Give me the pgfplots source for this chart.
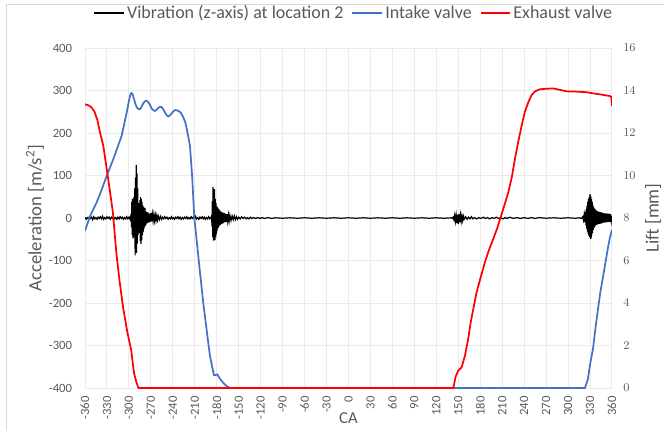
\documentclass[border=0pt]{standalone}
\usepackage{fontspec}
\setmainfont{Carlito}
\usepackage{pgfplots}
\pgfplotsset{compat=1.18}
\definecolor{TxtGray}{HTML}{595959}
\definecolor{GridGray}{HTML}{EBEBEB}
\definecolor{FrameGray}{HTML}{D9D9D9}
\definecolor{IntakeBlue}{HTML}{4472C4}
\definecolor{ExhaustRed}{HTML}{FF0000}

\begin{document}
\begin{tikzpicture}
\pgfplotsset{
  every axis/.append style={
    scale only axis, width=395.25pt, height=255pt,
    xmin=-360, xmax=360,
    tick style={draw=none}, major tick length=0pt,
    axis line style={draw=none},
    tick label style={font=\fontsize{9.5}{11}\selectfont, text=TxtGray},
  }
}
\begin{axis}[
  at={(0,0)}, anchor=south west,
  axis x line*=bottom, axis y line*=left,
  ymin=-400, ymax=400, ytick={-400,-300,...,400},
  xtick={-360,-330,...,360},
  xticklabel={\pgfmathtruncatemacro\tmp{round(\tick)}\tmp},
  yticklabel={\pgfmathtruncatemacro\tmp{round(\tick)}\tmp},
  xticklabel style={rotate=90, anchor=east, inner sep=0pt, xshift=-6pt},
  yticklabel style={anchor=east, inner sep=0pt, xshift=-9.5pt},
  grid=major, grid style={GridGray, line width=0.75pt},
  every axis x label/.style={at={(axis description cs:0.5,-0.089)}, anchor=center,
    font=\fontsize{12.5}{14}\selectfont, text=TxtGray},
  every axis y label/.style={at={(axis description cs:-0.095,0.5)}, rotate=90, anchor=center,
    font=\fontsize{14}{16}\selectfont, text=TxtGray},
  xlabel={CA}, ylabel={Acceleration [m/s\textsuperscript{2}]},
  legend columns=3,
  legend style={at={(axis description cs:0.511,1.103)}, anchor=center, draw=none, fill=none,
    font=\fontsize{13.5}{16}\selectfont, text=TxtGray, inner sep=0pt,
    /tikz/every even column/.append style={column sep=4pt}},
  legend image code/.code={\draw[#1] (0pt,0pt) -- (22pt,0pt);},
]
\addplot[black, line width=0.9pt] coordinates {
(-360,2) (-358.5,-3) (-357,1) (-355.5,-2) (-354,3) (-352.5,-1) (-351,2) (-349.5,-4) (-348,3) (-346.5,-2)
(-345,1) (-343.5,-3) (-342,2) (-340.5,-1) (-339,3) (-337.5,-2) (-336,4) (-334.5,-3) (-333,1) (-331.5,-2)
(-330,3) (-328.5,-1) (-327,2) (-325.5,-3) (-324,2) (-322.5,-1) (-321,3) (-319.5,-2) (-318,1) (-316.5,-3)
(-315,2) (-313.5,-2) (-312,3) (-310.5,-1) (-309,2) (-307.5,-3) (-306,1) (-304.5,-2) (-303,3) (-301.5,-2)
(-300,2) (-298.5,-3)
(-297,8) (-296.5,-22) (-296,38) (-295.5,-40) (-295,45) (-294.5,-48) (-294,42) (-293.5,-35) (-293,50) (-292.5,-45)
(-292,70) (-291.5,-88) (-291,95) (-290.5,-70) (-290,125) (-289.5,-82) (-289,105) (-288.5,-60) (-288,70) (-287.5,-40)
(-287,35) (-286.5,-30) (-286,25) (-285.5,-35) (-285,42) (-284.5,-55) (-284,49) (-283.5,-61) (-283,45) (-282.5,-52)
(-282,38) (-281.5,-40) (-281,30) (-280.5,-32) (-280,26) (-279.5,-25) (-279,22) (-278.5,-20) (-278,24) (-277.5,-18)
(-277,16) (-276.5,-15) (-276,14) (-275,-12) (-274,13) (-273,-11) (-272,10) (-271,-9) (-270,12) (-269,-8)
(-268,9) (-267,-7) (-266,8) (-265,-6) (-264,7) (-263,-6) (-262,5) (-261,-5) (-260,5) (-258.5,-4)
(-257,4) (-255.5,-3)
(-254,2) (-252.5,-2) (-251,3) (-249.5,-1) (-248,2) (-246.5,-3) (-245,1) (-243.5,-2) (-242,3) (-240.5,-2)
(-239,1) (-237.5,-3) (-236,2) (-234.5,-1) (-233,3) (-231.5,-2) (-230,2) (-228.5,-3) (-227,1) (-225.5,-2)
(-224,2) (-222.5,-1) (-221,3) (-219.5,-2) (-218,1) (-216.5,-2) (-215,3) (-213.5,-1) (-212,2) (-210.5,-3)
(-209,4) (-207.5,-2) (-206,1) (-204.5,-3) (-203,2) (-201.5,-1) (-200,3) (-198.5,-2) (-197,2) (-195.5,-3)
(-194,1) (-192.5,-2) (-191,3) (-189.5,-2) (-188,1)
(-187,5) (-186.5,-20) (-186,40) (-185.5,-45) (-185,73) (-184.5,-53) (-184,50) (-183.5,-50) (-183,68) (-182.5,-52)
(-182,45) (-181.5,-45) (-181,35) (-180.5,-38) (-180,28) (-179.5,-30) (-179,25) (-178.5,-25) (-178,22) (-177.5,-22)
(-177,20) (-176.5,-18) (-176,18) (-175,-16) (-174,15) (-173,-14) (-172,13) (-171,-12) (-170,12) (-169,-10)
(-168,10) (-167,-9) (-166,9) (-165,-8) (-164,7) (-163,-7) (-162,6) (-160.5,-6) (-159,5) (-157.5,-4)
(-156,5) (-154.5,-4) (-153,3) (-151.5,-3)
(-150,2) (-148,-2) (-146,3) (-144,-1) (-142,2) (-140,-2) (-138,1) (-136,-2) (-134,2) (-132,-1)
(-130,1) (-127,-1) (-124,1) (-121,-1) (-118,1) (-115,-1) (-110,1) (-105,-1) (-100,0.5)
(-90,-0.5) (-80,0.5) (-70,-0.5) (-60,0.5) (-50,-0.5) (-40,0.5) (-30,-0.5) (-20,0.5) (-10,-0.5) (0,0.5)
(10,-0.5) (20,0.5) (30,-0.5) (40,0.5) (50,-0.5) (60,0.5) (70,-0.5) (80,0.5) (90,-0.5) (100,0.5)
(110,-0.5) (120,0.5) (130,-0.5) (140,0.5) (142,-1)
(143,2) (144,-4) (145,6) (146,-8) (147,7) (148,-12) (149,8) (150,-14) (151,9) (152,-10)
(153,7) (154,-8) (155,5) (156,-6) (157,4) (158,-3) (160,3) (162,-3) (164,2) (166,-2) (168,3) (170,-2)
(172,1) (175,-2) (178,1) (181,-1) (184,2) (187,-1) (190,1) (193,-2) (196,1) (199,-1)
(202,2) (205,-1) (208,1) (211,-2) (214,1) (217,-1) (220,2) (225,-1) (230,1) (235,-1)
(240,1) (245,-1) (250,1) (255,-1) (260,1) (270,-0.5) (280,0.5) (290,-0.5) (300,0.5) (310,-0.5)
(315,0.5) (318,-1)
(320,3) (321,-5) (322,8) (323,-10) (324,15) (324.5,-18) (325,22) (325.5,-25) (326,30) (326.5,-32)
(327,38) (327.5,-38) (328,45) (328.5,-42) (329,50) (329.5,-45) (330,56) (330.5,-49) (331,52) (331.5,-48)
(332,45) (332.5,-40) (333,38) (333.5,-35) (334,30) (334.5,-28) (335,25) (335.5,-24) (336,22) (336.5,-20)
(337,20) (337.5,-18) (338,18) (339,-16) (340,17) (341,-15) (342,15) (343,-14) (344,14) (345,-13)
(346,13) (347,-12) (348,12) (349,-11) (350,11) (351,-10) (352,11) (353,-10) (354,10) (355,-9)
(356,10) (357,-9) (358,9) (359,-8) (360,5)
};
\addlegendentry{Vibration (z-axis) at location 2}
\addlegendimage{IntakeBlue, line width=1.3pt}
\addlegendentry{Intake valve}
\addlegendimage{ExhaustRed, line width=1.3pt}
\addlegendentry{Exhaust valve}
\end{axis}

\begin{axis}[
  at={(0,0)}, anchor=south west,
  axis x line=none, axis y line*=right,
  ymin=0, ymax=16, ytick={0,2,...,16},
  yticklabel style={anchor=west, inner sep=0pt, xshift=8.25pt},
  every axis y label/.style={at={(axis description cs:1.078,0.5)}, rotate=90, anchor=center,
    font=\fontsize{14}{16}\selectfont, text=TxtGray},
  ylabel={Lift [mm]},
]
% intake valve
\addplot[IntakeBlue, line width=1.3pt] coordinates {
(-360,7.40) (-353,8.10) (-344,8.74) (-337,9.35) (-330.4,9.98) (-321.3,10.77) (-309.9,11.87) (-303,12.97)
(-300,13.5) (-298.5,13.75) (-297.3,13.85) (-296.3,13.88) (-295,13.82) (-293,13.6) (-291,13.35) (-289,13.2)
(-287,13.13) (-284.9,13.12) (-282.5,13.25) (-280,13.42) (-277.8,13.5) (-275.8,13.52) (-273.5,13.45)
(-271,13.3) (-269,13.16) (-267,13.08) (-264.4,13.04) (-262,13.1) (-260,13.18) (-257.5,13.23)
(-255.3,13.22) (-253,13.12) (-251,12.98) (-248.5,12.84) (-246.2,12.78) (-243.5,12.84) (-241,12.95)
(-238.5,13.05) (-236,13.08) (-233.9,13.06) (-231.5,13.02) (-229,12.95) (-225.7,12.74) (-223,12.5)
(-221,12.2) (-218.8,11.8) (-216.6,11.4) (-213.5,9.9)
(-210.7,8.03) (-204,5.8) (-198.4,4.0) (-193,2.5) (-189.2,1.5) (-186,0.95) (-183.8,0.6) (-181,0.62)
(-179.3,0.64) (-175,0.4) (-170,0.2) (-166,0.08) (-162,0) (200,0) (323,0) (327,0.4) (330,1.1)
(334,1.84) (337,2.7) (340,3.5) (344,4.5) (348,5.28) (352,6.1) (355,6.7) (357,7.05) (360,7.45)
};
% exhaust valve
\addplot[ExhaustRed, line width=1.3pt] coordinates {
(-360,13.35) (-355,13.3) (-351,13.2) (-347,13.0) (-343,12.6) (-340,12.1) (-335,11.4) (-329,10.0)
(-322,8.3) (-317,6.3) (-313,5.1) (-308,3.8) (-302,2.6) (-297,1.8) (-293,0.7) (-290,0.3) (-287,0)
(0,0) (143.2,0) (146.5,0.55) (150,0.82) (154.6,0.98) (159.1,1.52) (163.6,2.32) (167,3.1) (170.5,3.72)
(175,4.5) (180.5,5.2) (186.4,5.92) (192,6.5) (197.8,7.02) (203,7.5) (207.8,8.03) (213,8.6)
(218.3,9.2) (223,9.9) (227.4,10.78) (232,11.6) (236.5,12.34) (241,13.0) (245.6,13.44) (250,13.78)
(254.8,13.96) (261.6,14.06) (270,14.08) (279.8,14.1) (290,14.02) (298,13.96) (310,13.95)
(325.4,13.92) (335,13.86) (343.5,13.82) (350,13.78) (357.2,13.74) (359,13.7) (360,13.26)
};
\end{axis}

\pgfresetboundingbox
\path[use as bounding box] (-63.75pt,-31.5pt) rectangle (434.25pt,291pt);
\draw[FrameGray, line width=0.75pt] (-58.5pt,-40pt) -- (-58.5pt,288pt) -- (440pt,288pt);
\end{tikzpicture}
\end{document}
